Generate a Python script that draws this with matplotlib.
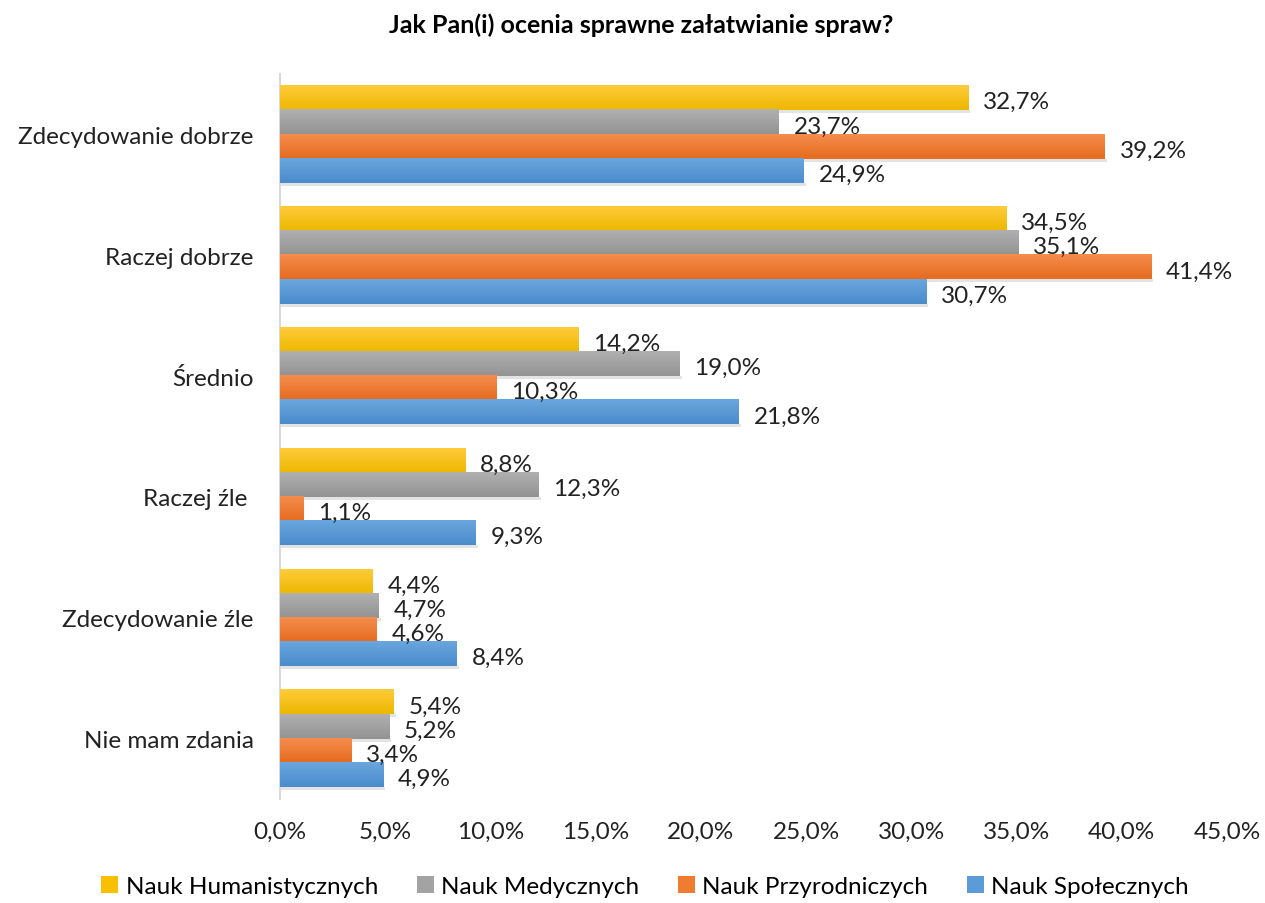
import numpy as np
import matplotlib.pyplot as plt
from matplotlib.colors import LinearSegmentedColormap

plt.rcParams['font.family'] = ['Lato', 'DejaVu Sans']

categories = ['Zdecydowanie dobrze', 'Raczej dobrze', 'Średnio', 'Raczej źle ',
              'Zdecydowanie źle', 'Nie mam zdania']
series = ['Nauk Humanistycznych', 'Nauk Medycznych', 'Nauk Przyrodniczych', 'Nauk Społecznych']
humanistycznych = [32.7, 34.5, 14.2, 8.8, 4.4, 5.4]
medycznych = [23.7, 35.1, 19.0, 12.3, 4.7, 5.2]
przyrodniczych = [39.2, 41.4, 10.3, 1.1, 4.6, 3.4]
spolecznych = [24.9, 30.7, 21.8, 9.3, 8.4, 4.9]
colors = ['#F8C000', '#A3A3A3', '#F07C30', '#5B9BD8']
# lighter top / darker bottom for the gradient look
grad = [('#FFCB3A', '#EDB800'), ('#B0B0B0', '#939393'),
        ('#F58D4E', '#E56B1E'), ('#6AA6DE', '#4A8CCC')]

values = [humanistycznych, medycznych, przyrodniczych, spolecznych]

fig = plt.figure(figsize=(12.65, 9.04), dpi=100)
ax = fig.add_axes([0.2213, 0.115, 0.7486, 0.802])

y = np.arange(len(categories))
h = 0.2
g = np.linspace(0, 1, 50).reshape(-1, 1)
for i, (vals, col, name) in enumerate(zip(values, colors, series)):
    pos = y + (i - 1.5) * h
    bars = ax.barh(pos, vals, height=h, color=col, label=name, zorder=3)
    cmap = LinearSegmentedColormap.from_list('g%d' % i, grad[i])
    for b, v in zip(bars, vals):
        y0 = b.get_y()
        y1 = y0 + b.get_height()
        # soft shadow under the bar
        ax.fill_between([0, v + 0.1], y1, y1 + 0.025, color='#C8C8C8', alpha=0.5,
                        lw=0, zorder=2)
        ax.imshow(g, extent=[0, v, y1, y0], aspect='auto', cmap=cmap,
                  origin='upper', zorder=4)
        ax.text(v + 0.7, (y0 + y1) / 2 + 0.03,
                f'{v:.1f}%'.replace('.', ','), va='center', ha='left',
                fontsize=17.5, color='#222222', zorder=5)

ax.set_yticks(y)
ax.set_yticklabels(categories, fontsize=17.5)
ax.set_ylim(len(categories) - 0.5, -0.5)
ax.set_xlim(0, 45)
ticks = np.arange(0, 46, 5)
ax.set_xticks(ticks)
ax.set_xticklabels([f'{t:.1f}%'.replace('.', ',') for t in ticks], fontsize=17.5)
ax.tick_params(axis='both', length=0, colors='#222222')
ax.tick_params(axis='y', pad=19)
ax.tick_params(axis='x', pad=16)
for s in ['top', 'right', 'bottom']:
    ax.spines[s].set_visible(False)
ax.spines['left'].set_color('#D9D9D9')
ax.spines['left'].set_linewidth(1.5)

fig.suptitle('Jak Pan(i) ocenia sprawne załatwianie spraw?', fontsize=18,
             fontweight='bold', x=0.507, y=0.985)

fig.legend(loc='lower center', ncol=4, frameon=False, fontsize=17.5,
           bbox_to_anchor=(0.51, -0.018), handlelength=0.7, handleheight=0.7,
           handletextpad=0.3, columnspacing=1.6)

fig.savefig('out.png', dpi=100)
